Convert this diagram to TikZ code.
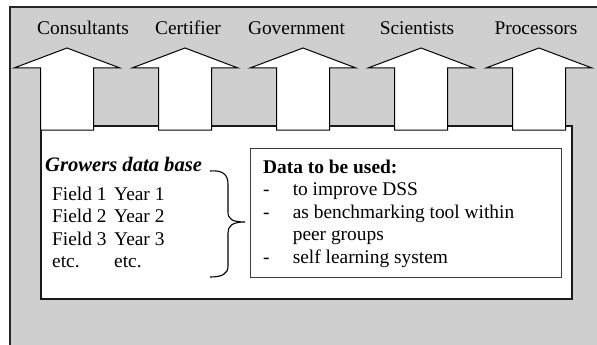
\documentclass[tikz,border=0pt]{standalone}
\usepackage{fontspec}
\setmainfont{Liberation Serif}
\definecolor{bggray}{RGB}{207,207,207}
\definecolor{boxline}{RGB}{60,60,60}
\tikzset{
  txt/.style={inner sep=0pt, anchor=base west, font=\fontsize{19.4}{22.6}\selectfont},
  lbl/.style={inner sep=0pt, anchor=base, font=\fontsize{19.4}{22.6}\selectfont},
  uparrow/.style={fill=white, draw=black, line width=1pt, line join=miter},
}
\begin{document}
\begin{tikzpicture}[x=1pt,y=-1pt]
\path[use as bounding box] (0,0) rectangle (597,345);
\clip (0,0) rectangle (597,345);
% outer panel
\draw[fill=bggray, draw=black!85, line width=1.6pt] (10,7) rectangle (640,380);
% inner box
\node[draw=black!90, fill=white, line width=2.2pt, inner sep=0pt, anchor=north west,
      minimum width=531pt, minimum height=173pt] (inner) at (40,125) {};
% arrows
\foreach \cx/\nm in {67/a1,185/a2,303/a3,421/a4,539/a5}{
  \draw[uparrow] (\cx-26.5,130) -- (\cx-26.5,68) -- (\cx-53,68) -- (\cx,48)
    -- (\cx+53,68) -- (\cx+26.5,68) -- (\cx+26.5,130) -- cycle;
  \coordinate (\nm) at (\cx,48);
}
% labels
\node[lbl] (consultants) at (83,35) {Consultants};
\node[lbl] (certifier) at (188,35) {Certifier};
\node[lbl] (government) at (296.5,35) {Government};
\node[lbl] (scientists) at (417,35) {Scientists};
\node[lbl] (processors) at (536,35) {Processors};
% growers data base
\node[txt, font=\fontsize{20.6}{22.6}\selectfont\bfseries\itshape] (growers) at (45,171) {Growers data base};
\node[txt] (f1) at (52,200) {Field 1};
\node[txt] (y1) at (114,200) {Year 1};
\node[txt] (f2) at (52,222.6) {Field 2};
\node[txt] (y2) at (114,222.6) {Year 2};
\node[txt] (f3) at (52,245.2) {Field 3};
\node[txt] (y3) at (114,245.2) {Year 3};
\node[txt] (e1) at (52,267.8) {etc.};
\node[txt] (e2) at (114,267.8) {etc.};
% brace
\coordinate (btop) at (210,171);
\coordinate (btip) at (245,222);
\coordinate (bbot) at (210,277);
\draw[line width=1.1pt] (btop) .. controls (222,170) and (228,174) .. (228,184) -- (228,212)
  .. controls (228,219) and (232,222) .. (btip)
  .. controls (232,222) and (228,226) .. (228,233) -- (228,266)
  .. controls (228,274) and (222,277) .. (bbot);
% data box
\node[draw=boxline, fill=white, line width=1pt, inner sep=0pt, anchor=north west,
      minimum width=311pt, minimum height=129pt] (databox) at (250,148) {};
\node[txt, font=\fontsize{19.4}{22.6}\selectfont\bfseries] (dhead) at (263,173) {Data to be used:};
\node[txt] (d1) at (263,195.6) {-};
\node[txt] (t1) at (292.6,195.6) {to improve DSS};
\node[txt] (d2) at (263,218.2) {-};
\node[txt] (t2) at (292.6,218.2) {as benchmarking tool within};
\node[txt] (t3) at (292.6,240.8) {peer groups};
\node[txt] (d3) at (263,263.4) {-};
\node[txt] (t4) at (292.6,263.4) {self learning system};
\end{tikzpicture}
\end{document}
